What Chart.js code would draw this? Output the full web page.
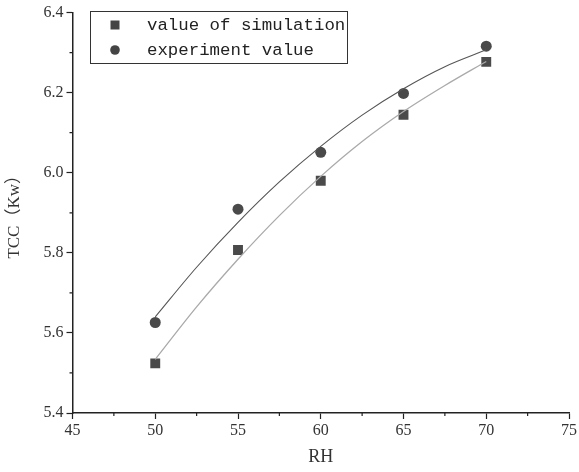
<!DOCTYPE html>
<html>
<head>
<meta charset="utf-8">
<script src="https://cdn.jsdelivr.net/npm/chart.js@4"></script>
<style>
  body { margin: 0; background: #fff; }
  #wrap { width: 579px; height: 472px; }
</style>
</head>
<body>
<div id="wrap"><canvas id="myChart"></canvas></div>
<script>
const rh = [50, 55, 60, 65, 70];
const simValues = [5.524, 5.807, 5.980, 6.145, 6.277];
const expValues = [5.626, 5.909, 6.051, 6.198, 6.316];
// fitted curves
const fitX = [50, 52.5, 55, 57.5, 60, 62.5, 65, 67.5, 70];
const simFit = [5.534, 5.665, 5.784, 5.893, 5.991, 6.078, 6.153, 6.218, 6.278];
const expFit = [5.640, 5.764, 5.876, 5.977, 6.066, 6.144, 6.210, 6.265, 6.307];
const xTicks = [45, 50, 55, 60, 65, 70, 75];
const yTicks = [5.4, 5.6, 5.8, 6.0, 6.2, 6.4];
const seriesNames = ['value of simulation', 'experiment value'];

const toPts = (xs, ys) => xs.map((x, i) => ({ x: x, y: ys[i] }));

const serif = "'Liberation Serif', 'Noto Sans CJK SC', serif";

// short ticks halfway between the labelled ones
const minorTicks = {
  id: 'minorTicks',
  afterDraw(chart) {
    const ctx = chart.ctx, a = chart.chartArea;
    const sx = chart.scales.x, sy = chart.scales.y;
    ctx.save();
    ctx.strokeStyle = '#222';
    ctx.lineWidth = 1.2;
    ctx.beginPath();
    for (let i = 0; i < xTicks.length - 1; i++) {
      const px = sx.getPixelForValue((xTicks[i] + xTicks[i + 1]) / 2);
      ctx.moveTo(px, a.bottom);
      ctx.lineTo(px, a.bottom + 3);
    }
    for (let i = 0; i < yTicks.length - 1; i++) {
      const py = sy.getPixelForValue((yTicks[i] + yTicks[i + 1]) / 2);
      ctx.moveTo(a.left, py);
      ctx.lineTo(a.left - 3, py);
    }
    ctx.stroke();
    ctx.restore();
  }
};

// boxed legend inside the plot, top left
const boxLegend = {
  id: 'boxLegend',
  afterDraw(chart) {
    const ctx = chart.ctx;
    ctx.save();
    ctx.strokeStyle = '#333';
    ctx.lineWidth = 1;
    ctx.strokeRect(90.5, 11.5, 257, 52);
    ctx.fillStyle = '#444';
    ctx.fillRect(110.5, 20.5, 9, 9);
    ctx.beginPath();
    ctx.arc(115, 50, 4.8, 0, Math.PI * 2);
    ctx.fill();
    ctx.fillStyle = '#222';
    ctx.font = "17.4px 'Liberation Mono', monospace";
    ctx.textBaseline = 'middle';
    ctx.fillText(seriesNames[0], 147, 25);
    ctx.fillText(seriesNames[1], 147, 50);
    ctx.restore();
  }
};

const ctx = document.getElementById('myChart');

new Chart(ctx, {
  type: 'scatter',
  data: {
    datasets: [
      {
        label: 'sim fit',
        data: toPts(fitX, simFit),
        showLine: true,
        pointRadius: 0,
        borderColor: '#aaaaaa',
        borderWidth: 1.3,
        cubicInterpolationMode: 'monotone'
      },
      {
        label: 'exp fit',
        data: toPts(fitX, expFit),
        showLine: true,
        pointRadius: 0,
        borderColor: '#555555',
        borderWidth: 1.1,
        cubicInterpolationMode: 'monotone'
      },
      {
        label: seriesNames[0],
        data: toPts(rh, simValues),
        pointStyle: 'rect',
        pointRadius: 7,
        backgroundColor: '#4a4a4a',
        borderWidth: 0,
        showLine: false
      },
      {
        label: seriesNames[1],
        data: toPts(rh, expValues),
        pointStyle: 'circle',
        pointRadius: 5.5,
        backgroundColor: '#4a4a4a',
        borderWidth: 0,
        showLine: false
      }
    ]
  },
  options: {
    responsive: true,
    maintainAspectRatio: false,
    animation: false,
    layout: { padding: { top: 12, right: 10, left: 0, bottom: 0 } },
    plugins: {
      legend: { display: false },
      tooltip: { enabled: false }
    },
    scales: {
      x: {
        type: 'linear',
        min: 45,
        max: 75,
        afterBuildTicks: s => { s.ticks = xTicks.map(v => ({ value: v })); },
        afterFit: s => { s.height = 59; },
        border: { color: '#222', width: 1.5 },
        grid: { drawOnChartArea: false, tickLength: 6, color: '#222', tickWidth: 1.2 },
        ticks: { color: '#333', font: { family: serif, size: 16 }, padding: 2 },
        title: { display: true, text: 'RH', color: '#333', font: { family: serif, size: 18 }, padding: { top: 4 } }
      },
      y: {
        min: 5.4,
        max: 6.4,
        afterBuildTicks: s => { s.ticks = yTicks.map(v => ({ value: v })); },
        afterFit: s => { s.width = 72.5; },
        border: { color: '#222', width: 1.5 },
        grid: { drawOnChartArea: false, tickLength: 6, color: '#222', tickWidth: 1.2 },
        ticks: {
          color: '#333',
          font: { family: serif, size: 16 },
          padding: 3,
          callback: v => v.toFixed(1)
        },
        title: { display: true, text: 'TCC（Kw）', color: '#333', font: { family: serif, size: 17 }, padding: { bottom: 2 } }
      }
    }
  },
  plugins: [minorTicks, boxLegend]
});
</script>
</body>
</html>
